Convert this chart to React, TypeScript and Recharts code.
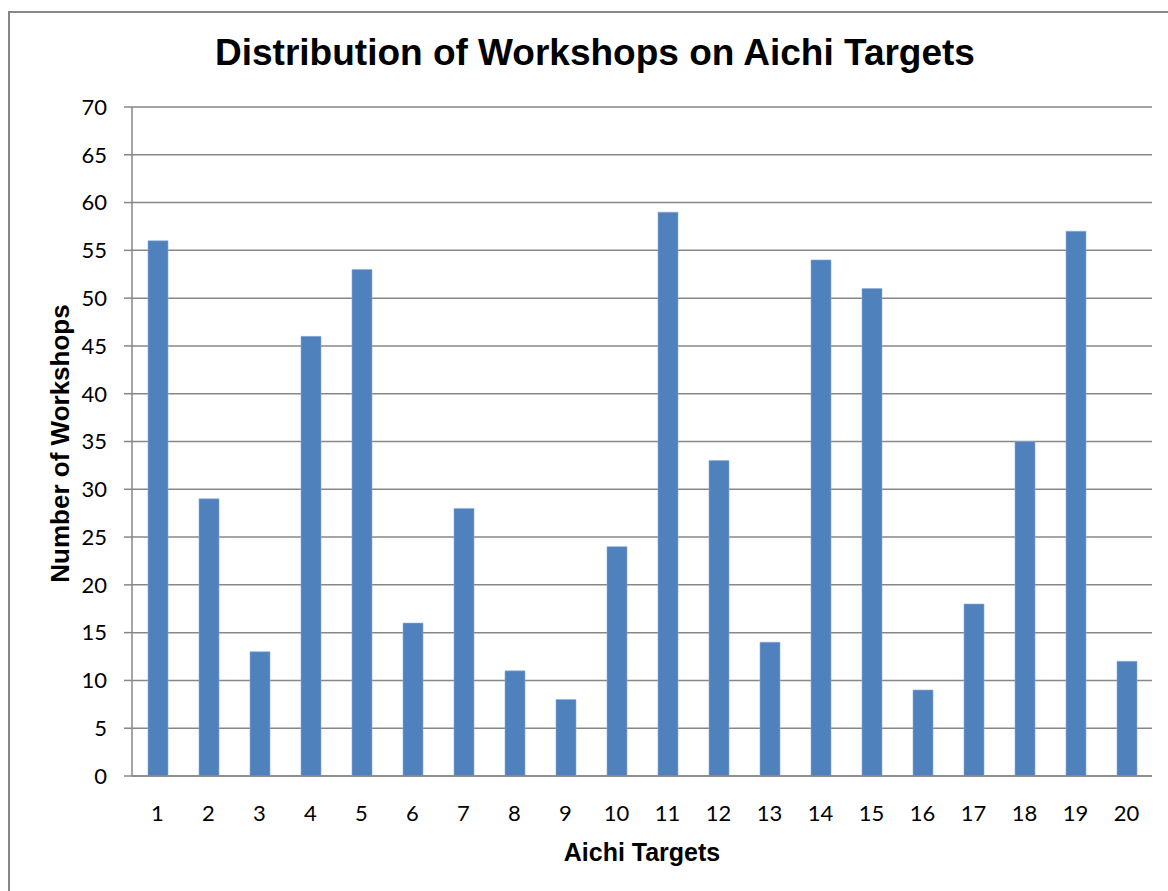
import React from 'react';
import {
    BarChart,
    Bar,
    XAxis,
    YAxis,
    CartesianGrid,
} from 'recharts';

const TARGETS = ['1', '2', '3', '4', '5', '6', '7', '8', '9', '10', '11', '12', '13', '14', '15', '16', '17', '18', '19', '20'];
const WORKSHOPS = [56, 29, 13, 46, 53, 16, 28, 11, 8, 24, 59, 33, 14, 54, 51, 9, 18, 35, 57, 12];
const Y_TICKS = [0, 5, 10, 15, 20, 25, 30, 35, 40, 45, 50, 55, 60, 65, 70];

const AXIS_GREY = '#878787';
const BAR_BLUE = '#4F81BD';
const TICK_FONT = 'Lato, "Open Sans", sans-serif';
const TITLE_FONT = '"Liberation Sans", Arial, sans-serif';

const chartData = TARGETS.map((t, i) => ({ target: t, workshops: WORKSHOPS[i] }));

// axis titles drawn from the axis viewBox
const YTitle = ({ viewBox }: any) => {
    const cx = 60;
    const cy = viewBox.y + viewBox.height / 2 + 2;
    return (
        <text
            x={cx}
            y={cy}
            transform={`rotate(-90 ${cx} ${cy})`}
            textAnchor="middle"
            dominantBaseline="central"
            fontFamily={TITLE_FONT}
            fontWeight="bold"
            fontSize={26}
            fill="#000"
        >
            Number of Workshops
        </text>
    );
};

const XTitle = ({ viewBox }: any) => {
    const cx = viewBox.x + viewBox.width / 2;
    return (
        <text
            x={cx}
            y={852}
            textAnchor="middle"
            dominantBaseline="central"
            fontFamily={TITLE_FONT}
            fontWeight="bold"
            fontSize={25}
            fill="#000"
        >
            Aichi Targets
        </text>
    );
};

export default function App() {
    return (
        <div>
            {/* chart frame, runs off the right and bottom of the page */}
            <div
                style={{
                    position: 'fixed',
                    left: 8,
                    top: 11,
                    width: 1300,
                    height: 1000,
                    border: `2px solid ${AXIS_GREY}`,
                    background: '#fff',
                }}
            />
            <div style={{ position: 'fixed', left: 0, top: 0, width: 1168, height: 891 }}>
                <BarChart
                    width={1168}
                    height={891}
                    data={chartData}
                    margin={{ top: 107, right: 16, bottom: 35, left: 0 }}
                    barCategoryGap={0}
                >
                    <text
                        x={595}
                        y={52}
                        textAnchor="middle"
                        dominantBaseline="central"
                        fontFamily={TITLE_FONT}
                        fontWeight="bold"
                        fontSize={37}
                        fill="#000"
                    >
                        Distribution of Workshops on Aichi Targets
                    </text>
                    <CartesianGrid vertical={false} stroke={AXIS_GREY} strokeWidth={1.5} />
                    <XAxis
                        dataKey="target"
                        height={80}
                        tickLine={false}
                        tickSize={0}
                        tickMargin={29}
                        axisLine={{ stroke: AXIS_GREY, strokeWidth: 1.5 }}
                        tick={{ fill: '#000', fontSize: 22, fontFamily: TICK_FONT }}
                        interval={0}
                        label={<XTitle />}
                    />
                    <YAxis
                        width={132}
                        domain={[0, 70]}
                        ticks={Y_TICKS}
                        interval={0}
                        tickSize={8}
                        tickMargin={17}
                        tickLine={{ stroke: AXIS_GREY, strokeWidth: 1.5 }}
                        axisLine={{ stroke: AXIS_GREY, strokeWidth: 1.5 }}
                        tick={{ fill: '#000', fontSize: 22, fontFamily: TICK_FONT }}
                        label={<YTitle />}
                    />
                    <Bar
                        dataKey="workshops"
                        fill={BAR_BLUE}
                        stroke="#8EACD6"
                        strokeWidth={0.6}
                        barSize={20}
                        isAnimationActive={false}
                    />
                </BarChart>
            </div>
        </div>
    );
}
